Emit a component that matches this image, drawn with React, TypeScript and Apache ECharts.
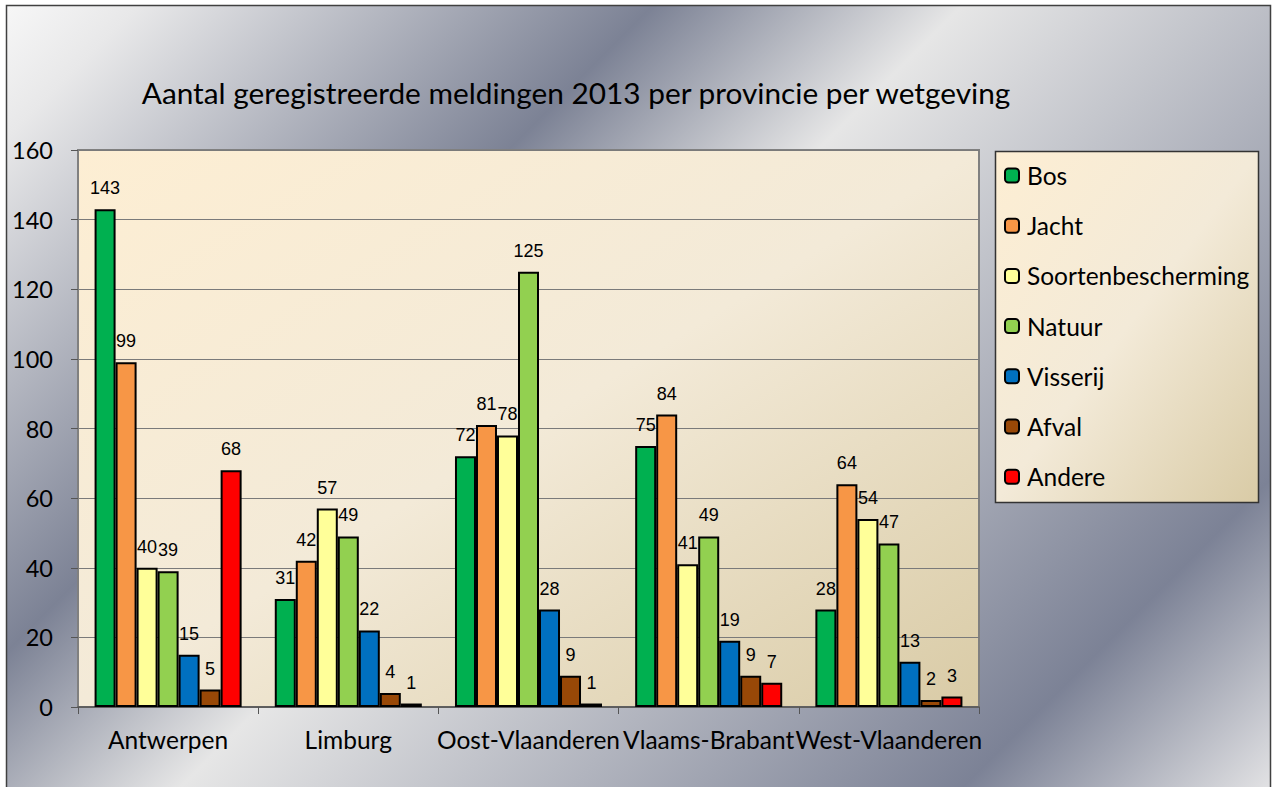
import React, { useEffect, useRef } from "react";
import * as echarts from "echarts";

const titleText = "Aantal geregistreerde meldingen 2013 per provincie per wetgeving";
const provinces = ["Antwerpen", "Limburg", "Oost-Vlaanderen", "Vlaams-Brabant", "West-Vlaanderen"];
const seriesNames = ["Bos", "Jacht", "Soortenbescherming", "Natuur", "Visserij", "Afval", "Andere"];
const seriesColors = ["#00b050", "#f79646", "#ffff99", "#92d050", "#0070c0", "#984807", "#ff0000"];
const bos = [143, 31, 72, 75, 28];
const jacht = [99, 42, 81, 84, 64];
const soortenbescherming = [40, 57, 78, 41, 54];
const natuur = [39, 49, 125, 49, 47];
const visserij = [15, 22, 28, 19, 13];
const afval = [5, 4, 9, 9, 2];
const andere = [68, 1, 1, 7, 3];
const seriesValues = [bos, jacht, soortenbescherming, natuur, visserij, afval, andere];
const yMin = 0;
const yMax = 160;
const yStep = 20;

export default function App() {
  const ref = useRef<HTMLDivElement>(null);
  useEffect(() => {
    if (!ref.current) return;
    const chart = echarts.init(ref.current, null, { renderer: "svg" });
    const parchment = {
      type: "linear",
      x: 0,
      y: 0,
      x2: 1,
      y2: 1,
      colorStops: [
        { offset: 0, color: "#fdeed3" },
        { offset: 0.5, color: "#f3ead8" },
        { offset: 1, color: "#d9cba6" },
      ],
    };
    chart.setOption({
      animation: false,
      graphic: [
        {
          type: "rect",
          z: -100,
          shape: { x: 6.5, y: 5.5, width: 1264, height: 800 },
          style: {
            fill: {
              type: "linear",
              x: 0,
              y: 0,
              x2: 1029.5,
              y2: 1029.5,
              global: true,
              colorStops: [
                { offset: 0, color: "#f8f8f8" },
                { offset: 0.07, color: "#e8e8e9" },
                { offset: 0.32, color: "#7c8295" },
                { offset: 0.47, color: "#e6e6e6" },
                { offset: 0.85, color: "#7c8296" },
                { offset: 1, color: "#e2e2e4" },
              ],
            },
            stroke: "#404040",
            lineWidth: 1.5,
          },
        },
        {
          type: "rect",
          z: 1,
          shape: { x: 995.5, y: 151.5, width: 263, height: 351 },
          style: { fill: parchment, stroke: "#333333", lineWidth: 1.5 },
        },
        {
          type: "text",
          z: 5,
          x: 576,
          y: 92,
          style: {
            text: titleText,
            fontFamily: "Lato",
            fontSize: 29.8,
            fill: "#000000",
            align: "center",
            verticalAlign: "middle",
          },
        },
      ],
      legend: {
        orient: "vertical",
        left: 1004,
        top: 163,
        padding: 0,
        itemWidth: 14,
        itemHeight: 14,
        itemGap: 25.2,
        data: seriesNames,
        textStyle: {
          fontFamily: "Lato",
          fontSize: 24.5,
          lineHeight: 24,
          color: "#000",
          padding: [0, 0, 0, 3],
        },
      },
      grid: {
        left: 78,
        top: 150,
        width: 901,
        height: 557,
        show: true,
        backgroundColor: parchment,
        borderColor: "#808080",
        borderWidth: 2,
      },
      xAxis: {
        type: "category",
        data: provinces,
        axisLine: { lineStyle: { color: "#555555", width: 1.5 } },
        axisTick: { show: true, length: 7, lineStyle: { color: "#555555" } },
        axisLabel: { fontFamily: "Lato", fontSize: 24.5, color: "#000", margin: 20, interval: 0 },
        splitLine: { show: false },
      },
      yAxis: {
        type: "value",
        min: yMin,
        max: yMax,
        interval: yStep,
        axisLine: { show: true, lineStyle: { color: "#808080", width: 1.5 } },
        axisTick: { show: true, length: 7, lineStyle: { color: "#555555" } },
        axisLabel: { fontFamily: "Lato", fontSize: 23.5, color: "#000", margin: 25 },
        splitLine: { show: true, lineStyle: { color: "#7a7a7a", width: 1 } },
      },
      series: seriesNames.map((name, i) => ({
        name,
        type: "bar",
        data: seriesValues[i],
        barGap: "0%",
        barCategoryGap: "18.4%",
        itemStyle: { color: seriesColors[i], borderColor: "#000000", borderWidth: 2 },
        label: {
          show: true,
          position: "top",
          distance: 12,
          fontFamily: "Liberation Sans, Arial",
          fontSize: 18,
          color: "#000",
        },
      })),
    });
    return () => chart.dispose();
  }, []);
  return (
    <div
      ref={ref}
      style={{ position: "absolute", left: 0, top: 0, width: 1272, height: 787, background: "#ffffff" }}
    />
  );
}
